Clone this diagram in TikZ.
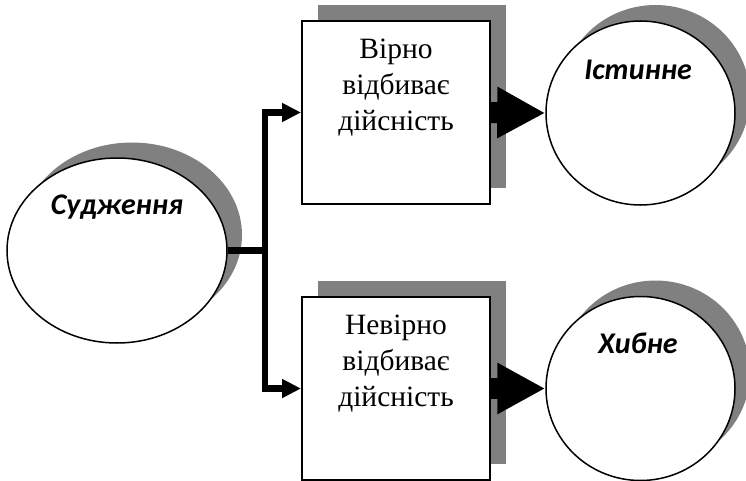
\documentclass[tikz,border=0pt]{standalone}
\usepackage{fontspec}
\newfontfamily\serifua{Liberation Serif}
\newfontfamily\sansua{Carlito}
\usetikzlibrary{shapes.geometric,arrows.meta}
\definecolor{shadowgray}{RGB}{128,128,128}
\begin{document}
\begin{tikzpicture}[x=1pt,y=-1pt,
  shadowell/.style={ellipse,fill=shadowgray,draw=none,inner sep=0pt},
  shadowbox/.style={rectangle,fill=shadowgray,draw=none,inner sep=0pt,minimum width=188pt,minimum height=183pt},
  ell/.style={ellipse,fill=white,draw=black,line width=1.5pt,inner sep=0pt},
  box/.style={rectangle,fill=white,draw=black,line width=2pt,inner sep=0pt,minimum width=188pt,minimum height=183pt},
  boxtext/.style={align=center,font=\serifua\fontsize{29.5}{36}\selectfont,inner sep=0pt},
  elltext/.style={font=\sansua\bfseries\itshape\fontsize{30}{34}\selectfont,inner sep=0pt},
  conn/.style={line width=6.5pt,draw=black},
  blockarrow/.style={line width=21pt,draw=black,-{Triangle[length=48pt,width=48pt]}}
]
\useasboundingbox (0,0) rectangle (746,481);
% shadows
\node[shadowell,minimum width=220pt,minimum height=185pt] (sudsh) at (132,235) {};
\node[shadowbox] (b1sh) at (412,96.5) {};
\node[shadowbox] (b2sh) at (412,372.5) {};
\node[shadowell,minimum width=189pt,minimum height=184pt] (c1sh) at (655.5,97) {};
\node[shadowell,minimum width=189pt,minimum height=184pt] (c2sh) at (655.5,372.5) {};
% main shapes
\node[ell,minimum width=220pt,minimum height=185pt] (sud) at (117,250.5) {};
\node[box] (b1) at (396,112.5) {};
\node[box] (b2) at (396,388.5) {};
\node[ell,minimum width=189pt,minimum height=184pt] (c1) at (640.5,113) {};
\node[ell,minimum width=189pt,minimum height=184pt] (c2) at (640.5,388.5) {};
% texts
\node[elltext] (sudt) at (117,207) {Судження};
\node[elltext] (c1t) at (638,70) {Істинне};
\node[elltext] (c2t) at (638,343) {Хибне};
\node[boxtext] (b1t) at (396,88) {Вірно\\відбиває\\дійсність};
\node[boxtext] (b2t) at (396,364) {Невірно\\відбиває\\дійсність};
% connectors
\coordinate (j) at (265,250.5);
\draw[conn] (sud.east) -- (j);
\draw[conn,-{Triangle[length=19pt,width=18pt]}] (j) |- (b1.west);
\draw[conn,-{Triangle[length=19pt,width=18pt]}] (j) |- (b2.west);
\draw[blockarrow] (b1.east) -- (c1.west);
\draw[blockarrow] (b2.east) -- (c2.west);
\end{tikzpicture}
\end{document}
